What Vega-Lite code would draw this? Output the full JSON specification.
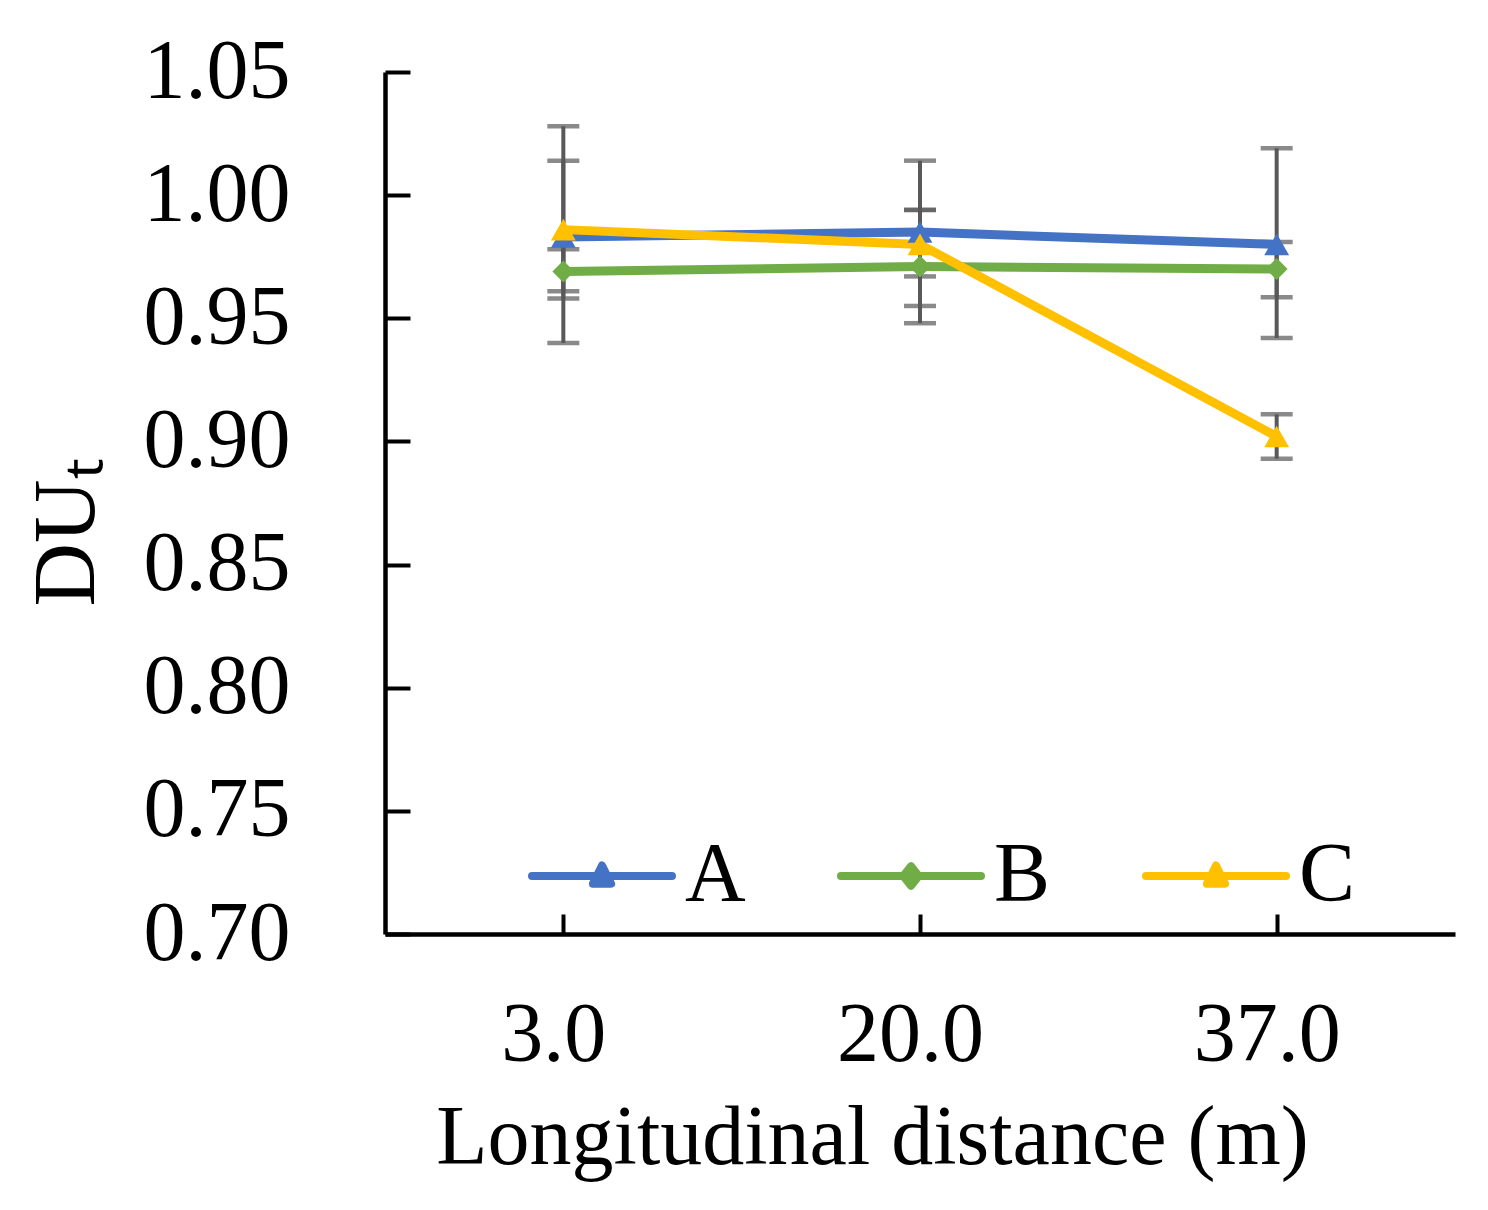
{
  "$schema": "https://vega.github.io/schema/vega-lite/v6.json",
  "width": 1070,
  "height": 862,
  "autosize": {"type": "none"},
  "padding": {"left": 385, "top": 72, "right": 33, "bottom": 276},
  "background": "white",
  "config": {
    "view": {"stroke": null},
    "font": "Liberation Serif",
    "axisY": {
      "domainColor": "black", "domainWidth": 4.5, "tickColor": "black", "tickWidth": 4,
      "tickSize": -25, "labelFontSize": 84, "labelColor": "black", "labelFont": "Liberation Serif",
      "labelPadding": 120, "grid": false, "titleFontSize": 88, "titleColor": "black",
      "titleFont": "Liberation Serif", "titleFontWeight": "normal"
    },
    "axisX": {
      "domainColor": "black", "domainWidth": 4.5, "tickColor": "black", "tickWidth": 4,
      "tickSize": -20, "labelFontSize": 84, "labelColor": "black", "labelFont": "Liberation Serif",
      "labelPadding": 146, "labelBaseline": "alphabetic", "labelAngle": 0, "labelOffset": -10, "grid": false,
      "titleFontSize": 84, "titleColor": "black", "titleFont": "Liberation Serif", "titleFontWeight": "normal"
    }
  },
  "data": {
    "values": [
      {"distance": "3.0", "series": "A", "value": 0.983, "lo": 0.940, "hi": 1.028},
      {"distance": "20.0", "series": "A", "value": 0.985, "lo": 0.955, "hi": 1.014},
      {"distance": "37.0", "series": "A", "value": 0.980, "lo": 0.942, "hi": 1.019},
      {"distance": "3.0", "series": "B", "value": 0.969, "lo": 0.961, "hi": 0.978},
      {"distance": "20.0", "series": "B", "value": 0.971, "lo": 0.948, "hi": 0.994},
      {"distance": "37.0", "series": "B", "value": 0.970, "lo": 0.9585, "hi": 0.981},
      {"distance": "3.0", "series": "C", "value": 0.986, "lo": 0.958, "hi": 1.014},
      {"distance": "20.0", "series": "C", "value": 0.980, "lo": 0.967, "hi": 0.994},
      {"distance": "37.0", "series": "C", "value": 0.902, "lo": 0.893, "hi": 0.911}
    ]
  },
  "encoding": {
    "x": {
      "field": "distance", "type": "ordinal", "sort": ["3.0", "20.0", "37.0"],
      "scale": {"type": "point", "padding": 0.5},
      "title": "Longitudinal distance (m)",
      "axis": {"titleX": 487, "titleY": 229, "titleBaseline": "alphabetic", "titleAlign": "center"}
    }
  },
  "layer": [
    {
      "mark": {"type": "rule", "color": "#595959", "strokeWidth": 4},
      "encoding": {
        "y": {
          "field": "lo", "type": "quantitative", "title": "DUₜ",
          "scale": {"domain": [0.7, 1.05], "nice": false, "zero": false},
          "axis": {
            "values": [0.7, 0.75, 0.8, 0.85, 0.9, 0.95, 1.0, 1.05], "format": ".2f",
            "titleX": -292, "titleY": 460, "titleAngle": 270, "titleBaseline": "alphabetic", "titleAlign": "center"
          }
        },
        "y2": {"field": "hi"}
      }
    },
    {
      "mark": {"type": "tick", "orient": "horizontal", "color": "#595959", "size": 32, "thickness": 4.5},
      "encoding": {"y": {"field": "lo", "type": "quantitative", "title": "DUₜ"}}
    },
    {
      "mark": {"type": "tick", "orient": "horizontal", "color": "#595959", "size": 32, "thickness": 4.5},
      "encoding": {"y": {"field": "hi", "type": "quantitative", "title": "DUₜ"}}
    },
    {
      "mark": {"type": "line", "strokeWidth": 9, "strokeJoin": "round"},
      "encoding": {
        "y": {"field": "value", "type": "quantitative", "title": "DUₜ"},
        "color": {
          "field": "series", "type": "nominal",
          "scale": {"domain": ["A", "B", "C"], "range": ["#4472C4", "#70AD47", "#FFC000"]},
          "legend": {
            "orient": "none", "legendX": 143, "legendY": 730, "direction": "horizontal", "title": null,
            "symbolType": "M-1,0H1M-0.13,0.11L0,-0.15L0.13,0.11Z", "symbolSize": 19600,
            "symbolStrokeWidth": 8, "labelFontSize": 84, "labelColor": "black", "labelFont": "Liberation Serif",
            "labelOffset": 9, "columnPadding": 91, "padding": 0,
            "encode": {
              "symbols": {
                "update": {
                  "shape": {"signal": "datum.value === 'B' ? 'M-1,0H1M-0.11,0L0,-0.14L0.11,0L0,0.14Z' : 'M-1,0H1M-0.13,0.11L0,-0.15L0.13,0.11Z'"},
                  "fill": {"signal": "scale('color', datum.value)"},
                  "stroke": {"signal": "scale('color', datum.value)"},
                  "strokeWidth": {"value": 8},
                  "strokeCap": {"value": "round"},
                  "strokeJoin": {"value": "round"}
                }
              }
            }
          }
        }
      }
    },
    {
      "transform": [{"filter": "datum.series !== 'B'"}],
      "mark": {"type": "point", "filled": true, "opacity": 1, "size": 620, "shape": "triangle-up"},
      "encoding": {
        "y": {"field": "value", "type": "quantitative", "title": "DUₜ"},
        "color": {"field": "series", "type": "nominal", "legend": null}
      }
    },
    {
      "transform": [{"filter": "datum.series === 'B'"}],
      "mark": {"type": "point", "filled": true, "opacity": 1, "size": 480, "shape": "diamond"},
      "encoding": {
        "y": {"field": "value", "type": "quantitative", "title": "DUₜ"},
        "color": {"field": "series", "type": "nominal", "legend": null}
      }
    }
  ]
}
